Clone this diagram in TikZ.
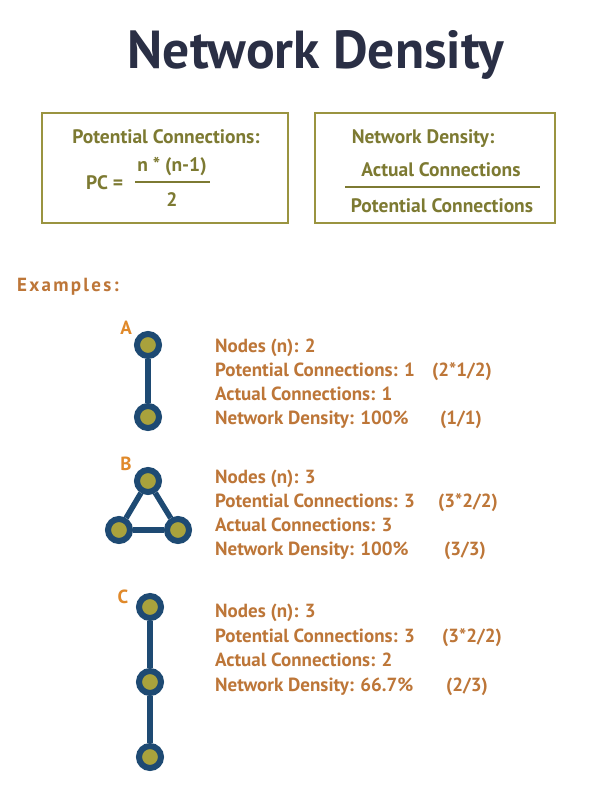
\documentclass[tikz,border=0pt]{standalone}
\usepackage{fontspec}
\setmainfont{PT Sans}
\definecolor{navy}{HTML}{2A2F45}
\definecolor{olive}{HTML}{7D7A32}
\definecolor{oliveline}{HTML}{9A9440}
\definecolor{brown}{HTML}{BD7638}
\definecolor{orange}{HTML}{E0892A}
\definecolor{ring}{HTML}{1E4A73}
\definecolor{dot}{HTML}{A9A23C}
\tikzset{
	netnode/.style={circle,fill=dot,draw=ring,line width=6pt,minimum size=22pt,inner sep=0pt},
	netedge/.style={draw=ring,line width=5.5pt},
	info/.style={anchor=base west,inner sep=0pt,text=brown,font=\fontsize{19}{19}\selectfont\bfseries},
	formula/.style={anchor=base,inner sep=0pt,text=olive,font=\fontsize{19.5}{19.5}\selectfont\bfseries},
	label/.style={anchor=base,inner sep=0pt,text=orange,font=\fontsize{19}{19}\selectfont\bfseries}
}
\begin{document}
\begin{tikzpicture}[x=1pt,y=-1pt]
\useasboundingbox[fill=white] (0,0) rectangle (600,800);
%Titel
\node[anchor=base,inner sep=0pt,text=navy,font=\fontsize{53.5}{53.5}\selectfont\bfseries] (title) at (316,68) {Network Density};
%Formeln
\draw[oliveline,line width=1.5pt] (42,113) rectangle (288,223);
\draw[oliveline,line width=1.5pt] (315,113) rectangle (555,223);
\node[formula] (pctitle) at (166,143) {Potential Connections:};
\node[formula,anchor=base west] (pc) at (86,189) {PC =};
\node[formula] (pcnum) at (172,171) {n * (n-1)};
\node[formula] (pcden) at (172,206) {2};
\draw[olive,line width=1.2pt] (135,182)--(210,182);
\node[formula] (ndtitle) at (423,143) {Network Density:};
\node[formula] (ndnum) at (441,176) {Actual Connections};
\node[formula] (ndden) at (442,212) {Potential Connections};
\draw[olive,line width=1.2pt] (345,187)--(540,187);
\node[anchor=base west,inner sep=0pt,text=brown,font=\fontsize{19}{19}\selectfont\bfseries\addfontfeature{LetterSpace=12}] (examples) at (17,291) {Examples:};
%A
\node[label] (labA) at (126,334) {A};
\node[netnode] (a1) at (148,345) {};
\node[netnode] (a2) at (148,417) {};
\draw[netedge] (a1)--(a2);
\node[info] (a-n) at (215,352) {Nodes (n): 2};
\node[info] (a-pc) at (215,376) {Potential Connections: 1};
\node[info] (a-pcx) at (432,376) {(2*1/2)};
\node[info] (a-ac) at (215,400) {Actual Connections: 1};
\node[info] (a-nd) at (215,424) {Network Density: 100\%};
\node[info] (a-ndx) at (440,424) {(1/1)};
%B
\node[label] (labB) at (126,470) {B};
\node[netnode] (b1) at (148,481) {};
\node[netnode] (b2) at (119,530) {};
\node[netnode] (b3) at (178,530) {};
\draw[netedge] (b1)--(b2);
\draw[netedge] (b2)--(b3);
\draw[netedge] (b3)--(b1);
\node[info] (b-n) at (215,483) {Nodes (n): 3};
\node[info] (b-pc) at (215,507) {Potential Connections: 3};
\node[info] (b-pcx) at (438,507) {(3*2/2)};
\node[info] (b-ac) at (215,531) {Actual Connections: 3};
\node[info] (b-nd) at (215,555) {Network Density: 100\%};
\node[info] (b-ndx) at (444,555) {(3/3)};
%C
\node[label] (labC) at (123,603) {C};
\node[netnode] (c1) at (150,607) {};
\node[netnode] (c2) at (150,682) {};
\node[netnode] (c3) at (150,757) {};
\draw[netedge] (c1)--(c2);
\draw[netedge] (c2)--(c3);
\node[info] (c-n) at (215,617) {Nodes (n): 3};
\node[info] (c-pc) at (215,642) {Potential Connections: 3};
\node[info] (c-pcx) at (442,642) {(3*2/2)};
\node[info] (c-ac) at (215,666) {Actual Connections: 2};
\node[info] (c-nd) at (215,691) {Network Density: 66.7\%};
\node[info] (c-ndx) at (446,691) {(2/3)};
\end{tikzpicture}
\end{document}
